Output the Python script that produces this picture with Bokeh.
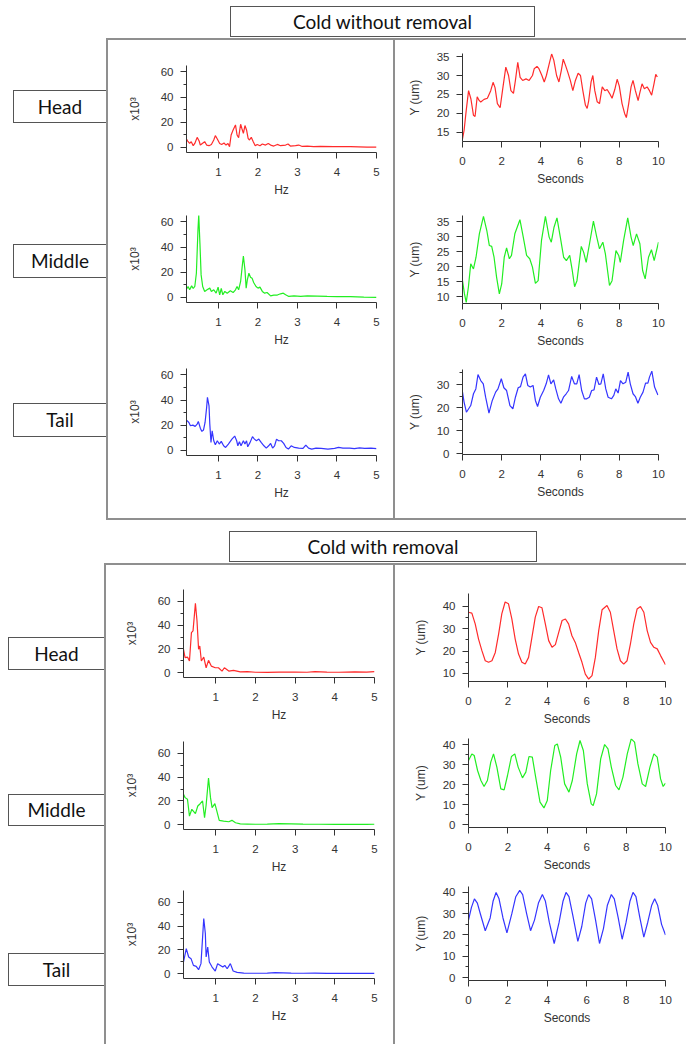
from bokeh.plotting import figure
from bokeh.layouts import row, column
from bokeh.models import Div, Spacer, Range1d, FixedTicker
from bokeh.embed import file_html
from bokeh.resources import INLINE

# ---------------- data ----------------
panel_titles = ["Cold without removal", "Cold with removal"]
row_labels = ["Head", "Middle", "Tail"]

# Panel 1 spectra (Hz, x10^3)
f_h1 = [0.19,0.22,0.27,0.31,0.36,0.40,0.46,0.51,0.54,0.59,0.65,0.70,0.76,0.82,0.88,0.92,0.97,1.03,1.08,1.14,
        1.19,1.24,1.28,1.32,1.37,1.43,1.47,1.51,1.56,1.59,1.63,1.67,1.71,1.75,1.78,1.83,1.88,1.93,1.98,2.05,
        2.11,2.19,2.26,2.32,2.40,2.49,2.57,2.70,2.76,2.82,2.95,3.03,3.12,3.25,3.41,3.58,3.92,4.34,4.76,5.0]
v_h1 = [6.7,5.1,3.2,4.6,1.4,3.2,8.0,5.1,1.9,3.2,4.6,1.9,1.4,2.4,5.9,9.4,6.7,3.2,2.4,3.5,
        1.9,3.2,0.6,9.9,13.9,17.9,9.9,7.8,18.4,15.2,11.2,17.4,13.9,7.2,5.9,8.0,4.6,1.4,2.4,1.4,
        2.7,1.9,3.2,1.9,1.1,2.4,1.4,1.9,2.7,1.1,1.4,1.9,0.8,1.1,0.6,0.8,0.6,0.6,0.3,0.3]
f_m1 = [0.19,0.23,0.27,0.32,0.36,0.40,0.44,0.48,0.50,0.53,0.56,0.60,0.65,0.71,0.78,0.82,0.88,0.94,0.99,1.03,
        1.07,1.11,1.16,1.22,1.30,1.37,1.43,1.47,1.51,1.56,1.60,1.63,1.67,1.70,1.73,1.77,1.81,1.85,1.89,1.95,
        2.00,2.05,2.11,2.17,2.23,2.32,2.40,2.49,2.57,2.64,2.70,2.78,2.91,3.08,3.25,3.50,3.75,4.0,4.34,4.68,5.0]
v_m1 = [6.6,8.7,6.1,9.2,7.1,8.7,19.2,53.4,65.3,42.9,17.9,8.7,4.8,6.1,7.4,4.8,6.1,3.4,8.2,2.1,
        7.1,2.1,4.8,3.4,5.3,3.9,6.1,8.7,6.1,12.7,24.5,32.9,21.9,7.4,14.0,19.2,16.1,15.3,11.9,8.7,
        7.4,8.2,4.8,3.4,3.9,1.3,1.9,1.9,2.9,3.4,2.1,0.8,1.3,0.8,1.3,1.1,0.8,0.6,0.6,0.3,0.1]
f_t1 = [0.19,0.25,0.29,0.35,0.41,0.46,0.49,0.54,0.58,0.62,0.66,0.70,0.72,0.76,0.78,0.81,0.84,0.88,0.92,0.97,
        1.02,1.07,1.13,1.18,1.25,1.34,1.41,1.46,1.49,1.53,1.57,1.63,1.67,1.71,1.74,1.80,1.86,1.91,1.96,2.02,
        2.08,2.15,2.21,2.27,2.32,2.37,2.42,2.47,2.52,2.59,2.65,2.71,2.77,2.84,2.92,3.03,3.14,3.21,3.28,3.36,
        3.47,3.60,3.77,3.94,4.04,4.15,4.32,4.44,4.57,4.70,4.86,5.0]
v_t1 = [24.1,22.2,19.6,20.1,19.1,20.9,23.0,17.7,15.1,16.2,22.2,34.2,42.1,35.4,20.9,6.4,15.6,7.7,4.5,7.7,
        5.1,7.2,3.7,2.4,5.1,9.0,11.4,7.7,3.7,6.9,3.7,7.7,5.1,7.7,2.9,6.4,10.9,9.0,7.7,9.0,
        6.4,3.7,1.9,3.7,5.6,1.9,3.7,9.0,7.7,7.7,5.6,2.4,1.1,3.7,2.4,1.9,1.6,4.3,1.9,1.1,
        1.9,1.6,1.1,1.6,2.4,1.9,1.9,1.4,2.1,1.6,1.9,1.4]

# Panel 1 time series (seconds, um)
t_h1 = [0,0.08,0.19,0.31,0.43,0.56,0.64,0.75,0.84,0.93,1.1,1.27,1.44,1.56,1.66,1.78,1.92,2.04,2.21,2.35,
        2.47,2.6,2.7,2.82,2.94,3.07,3.24,3.4,3.57,3.66,3.8,3.9,4.05,4.17,4.28,4.42,4.55,4.66,4.8,4.92,
        5.04,5.14,5.26,5.37,5.5,5.63,5.76,5.9,6.02,6.14,6.27,6.36,6.44,6.56,6.65,6.75,6.87,6.99,7.13,7.26,
        7.38,7.5,7.63,7.77,7.89,8.0,8.14,8.27,8.36,8.48,8.6,8.7,8.82,8.96,9.04,9.16,9.28,9.42,9.54,9.65,
        9.77,9.86,9.94]
y_h1 = [13.3,15.5,20.8,26,23.8,19.5,19.2,24.4,23.5,23,23.7,24,26,28.2,26.8,22.6,21.5,26,32.2,30,
        26,25.3,28.7,33.5,29.5,28.7,29.1,28.7,30,31.8,32.4,31.8,30,28.3,30,33,35.7,34,30,28.3,
        31.3,34.3,32.6,30.9,28.7,26,28.7,30.6,30,26,22.2,21.3,23.4,28.3,30,26,23.1,22.6,27,26,
        26.3,25.3,24,26.3,29,27.2,22.6,20,18.9,22.6,27,28.7,26,23.4,25.3,27.8,26.5,27,26,24.8,
        27.8,30.3,29.6]
t_m1 = [0,0.1,0.19,0.3,0.42,0.56,0.69,0.86,1.07,1.24,1.37,1.49,1.61,1.74,1.88,2.0,2.13,2.25,2.39,2.5,
        2.67,2.93,3.1,3.27,3.43,3.57,3.72,3.86,4.03,4.23,4.42,4.53,4.67,4.82,4.99,5.16,5.3,5.47,5.6,5.72,
        5.84,6.06,6.18,6.31,6.48,6.68,6.85,6.99,7.16,7.29,7.5,7.63,7.83,7.97,8.05,8.22,8.43,8.6,8.71,8.88,
        9.05,9.19,9.32,9.49,9.64,9.78,10.0]
y_m1 = [15.3,10.9,8.1,13.1,20.9,19.2,23.1,30.9,36.7,32,27,26.7,23.1,16.4,10.9,14.2,23.1,26.2,22.6,23.7,
        30.9,35.6,29.8,23.7,22.6,19.8,14.4,15.3,28.7,36.7,29.8,28.1,33.1,36.2,29.8,23.1,22,23.7,18.7,13.3,
        15.3,26.7,24.8,21.4,27.6,35.1,29.8,25.9,28.1,24.2,13.7,15.3,25.3,23.7,21.4,28.7,36.2,29.8,27,30.9,
        27.6,18.7,15.9,23.1,25.6,22,28.1]
t_t1 = [0,0.08,0.2,0.42,0.56,0.68,0.79,0.93,1.06,1.18,1.35,1.52,1.69,1.81,1.98,2.11,2.25,2.42,2.57,2.7,
        2.84,2.96,3.09,3.21,3.33,3.46,3.6,3.72,3.83,3.97,4.14,4.27,4.39,4.51,4.65,4.76,4.9,5.02,5.15,5.29,
        5.41,5.57,5.71,5.83,5.95,6.08,6.22,6.34,6.47,6.59,6.71,6.84,6.96,7.06,7.18,7.31,7.43,7.6,7.72,7.82,
        7.94,8.06,8.19,8.33,8.45,8.56,8.7,8.82,8.95,9.07,9.21,9.34,9.46,9.54,9.66,9.8,9.97]
y_t1 = [26.7,22.4,18,20.9,26,28.1,34.3,31.7,30.3,24.5,17.6,23.1,26.7,28.1,32.5,28.6,27.4,20.9,19.5,24.5,
        28.6,29.1,33.2,34.6,29.6,28.9,29.6,23.1,20.5,24.5,27.4,30.3,34.2,30.3,32,28.1,23.8,21.9,24.5,26,
        27.4,33.5,30.3,30.3,34.3,27.4,23.8,23.8,24.5,27.4,27.7,33.2,30,30.3,34.6,28.1,24.5,23.8,25.3,28.1,
        26.3,31.7,30.3,31,35.4,30.3,26,24.8,21.9,24.5,26.7,30.6,30.6,33.2,35.8,28.9,25.5]

# Panel 2 spectra
f_h2 = [0.19,0.23,0.29,0.34,0.39,0.43,0.49,0.53,0.57,0.60,0.64,0.70,0.76,0.82,0.89,0.99,1.07,1.16,1.22,1.33,
        1.45,1.62,1.80,2.0,2.3,2.6,3.0,3.3,3.5,3.8,4.1,4.5,4.8,5.0]
v_h2 = [19.7,12.7,13.2,9.9,33.8,35.2,58.3,43.7,19.7,22.5,9.9,13.2,4.2,10.4,5.6,4.2,4.2,1.4,4.2,1.4,
        2.0,0.8,1.0,0.4,0.3,0.5,0.6,0.4,0.9,0.5,0.4,0.8,0.6,0.9]
f_m2 = [0.19,0.23,0.29,0.34,0.40,0.49,0.55,0.61,0.67,0.72,0.76,0.82,0.87,0.91,0.98,1.03,1.09,1.20,1.33,1.41,
        1.50,1.62,1.8,2.0,2.3,2.6,2.9,3.2,3.6,4.0,4.4,4.8,5.0]
v_m2 = [25.6,22.8,21.4,7.3,13,9.3,15.8,17.7,20,5.9,16.6,39.2,22.8,14.4,17.7,11.5,3.7,3.1,2.5,3.7,
        1.7,0.8,0.6,0.4,0.5,0.9,0.8,0.5,0.4,0.3,0.4,0.3,0.4]
f_t2 = [0.19,0.26,0.32,0.38,0.44,0.51,0.57,0.63,0.70,0.74,0.76,0.80,0.84,0.91,0.99,1.05,1.12,1.18,1.23,1.29,
        1.37,1.44,1.54,1.71,2.0,2.3,2.5,2.7,2.9,3.2,3.5,3.8,4.2,4.6,5.0]
v_t2 = [9.9,21.1,14.1,12.7,7,6.2,3.4,8.5,46.5,33.8,14.1,22.5,9.9,5.6,2.3,8.5,7,5.6,7,4.2,
        8.5,2.3,1.1,0.6,0.4,0.5,1.0,0.8,0.5,0.4,0.5,0.3,0.4,0.3,0.3]

# Panel 2 time series
t_h2 = [0,0.17,0.34,0.51,0.68,0.85,1.02,1.19,1.36,1.53,1.69,1.86,2.03,2.2,2.37,2.54,2.71,2.88,3.05,3.22,
        3.39,3.56,3.73,3.9,4.07,4.24,4.41,4.58,4.75,4.92,5.08,5.25,5.42,5.59,5.76,5.93,6.1,6.27,6.44,6.61,
        6.78,7.03,7.2,7.37,7.54,7.71,7.88,8.05,8.22,8.39,8.56,8.73,8.9,9.07,9.24,9.41,9.58,9.75,10]
y_h2 = [37.4,37,32.2,25.4,20.2,15.7,15,15.7,19.4,27.7,36.7,42,41.2,34.4,25.4,18.7,15,14.2,17.2,26.2,
        35.2,40,39.4,32.2,24.7,21.7,22.9,28.4,33.7,34.4,32.2,26.9,23.9,19.4,15,9.7,7.5,9,17.2,29.2,
        38.5,40.4,37.4,29.2,21,15.7,14.2,15.7,23.2,32.2,38.9,40,37.4,29.2,23.9,21.7,21,18,13.9]
t_m2 = [0,0.17,0.29,0.46,0.63,0.79,0.96,1.13,1.27,1.44,1.64,1.81,1.98,2.18,2.35,2.52,2.74,2.91,3.07,3.24,
        3.41,3.63,3.83,4.0,4.17,4.38,4.51,4.68,4.88,5.1,5.27,5.49,5.66,5.83,6.03,6.23,6.33,6.5,6.71,6.91,
        7.08,7.25,7.47,7.64,7.84,8.06,8.26,8.43,8.6,8.82,8.99,9.21,9.41,9.58,9.75,9.88,10]
y_m2 = [32,35.3,34.5,27,22,19,22,31.2,35.3,28.7,17.8,17.3,24.5,34,35.3,28.7,23.3,26.2,34,33.7,
        23.7,11.2,8.3,12,27,39.5,40.3,33.7,20.3,16.2,22,35.3,42,37,20.3,10.3,9.5,15.3,32.8,40,
        37.8,28.7,19.5,17.3,23.7,35.3,42.8,41.2,30.3,20.3,19,28.7,35.3,33.7,22.8,19,20.7]
t_t2 = [0,0.15,0.3,0.45,0.6,0.85,1.1,1.25,1.4,1.55,1.75,1.95,2.2,2.4,2.6,2.75,2.95,3.15,3.35,3.55,
        3.75,3.9,4.1,4.35,4.6,4.8,4.95,5.1,5.3,5.55,5.75,5.95,6.1,6.25,6.45,6.65,6.85,7.05,7.25,7.4,
        7.6,7.8,8.0,8.2,8.35,8.5,8.7,8.9,9.1,9.3,9.45,9.6,9.8,10]
y_t2 = [27,33,37,35,30,22,28,36,40,37,28,21,30,38,41,39,30,22,27,35,
        39,36,26,16,26,36,40,38,29,17,24,35,39,37,27,16,23,34,39,37,
        28,18,26,36,40,38,28,19,26,34,37,34,25,20]

RED = "#ff2b2b"
GREEN = "#22ee22"
BLUE = "#3535ff"
AX = "#333333"
TFONT = "Liberation Sans"
BORDER = "#555555"
PLINE = "#8f8f8f"


def make_plot(w, h, bl, br, bt, bb, xr, yr, xs, ys, color, xticks, yticks, yminor,
              xlabel, ylabel, ylab_standoff):
    p = figure(width=w, height=h, x_range=Range1d(*xr), y_range=Range1d(*yr),
               toolbar_location=None, output_backend="svg",
               min_border_left=bl, min_border_right=br,
               min_border_top=bt, min_border_bottom=bb)
    p.outline_line_color = None
    p.xgrid.visible = False
    p.ygrid.visible = False
    p.background_fill_color = "white"
    p.border_fill_color = "white"
    p.line(xs, ys, line_color=color, line_width=1.2)
    p.xaxis.ticker = FixedTicker(ticks=xticks, minor_ticks=[])
    p.yaxis.ticker = FixedTicker(ticks=yticks, minor_ticks=yminor)
    for ax in (p.xaxis[0], p.yaxis[0]):
        ax.axis_line_color = AX
        ax.major_tick_line_color = AX
        ax.minor_tick_line_color = AX
        ax.major_tick_in = 0
        ax.major_tick_out = 6
        ax.minor_tick_in = 0
        ax.minor_tick_out = 3
        ax.major_label_text_font = TFONT
        ax.major_label_text_font_size = "11.5px"
        ax.major_label_text_color = AX
        ax.axis_label_text_font = TFONT
        ax.axis_label_text_font_size = "12px"
        ax.axis_label_text_font_style = "normal"
        ax.axis_label_text_color = AX
    p.xaxis.axis_label = xlabel
    p.yaxis.axis_label = ylabel
    p.xaxis.major_label_standoff = 9
    p.xaxis.axis_label_standoff = 4
    p.yaxis.major_label_standoff = 7
    p.yaxis.axis_label_standoff = ylab_standoff
    return p


def box(text, w, h, bw, bh, ml, mt, size, right=True):
    br = "" if right else "border-right:none;"
    html = ('<div style="box-sizing:border-box;margin-left:%dpx;margin-top:%dpx;width:%dpx;height:%dpx;'
            'border:1px solid %s;%sdisplay:flex;align-items:center;justify-content:center;'
            'font-family:Lato;font-size:%dpx;color:#111;background:#fff;">%s</div>'
            % (ml, mt, bw, bh, BORDER, br, size, text))
    return Div(text=html, width=w, height=h, margin=0)


def line_div(w, h):
    return Div(text="", width=w, height=h, margin=0,
               styles={"background-color": PLINE})


def sp(w, h):
    return Spacer(width=w, height=h, margin=0)


SX = [1, 2, 3, 4, 5]
SY = [0, 20, 40, 60]
SYM = [10, 30, 50]
TX = [0, 2, 4, 6, 8, 10]

# ---------- panel 1 ----------
s1 = make_plot(285, 160, 78, 17, 25, 48, (0.19, 5.0), (-4, 65), f_h1, v_h1, RED, SX, SY, SYM, "Hz", "x10³", 16)
s2 = make_plot(285, 153, 78, 17, 15, 51, (0.19, 5.0), (-4, 65), f_m1, v_m1, GREEN, SX, SY, SYM, "Hz", "x10³", 16)
s3 = make_plot(285, 165, 78, 17, 15, 63, (0.19, 5.0), (-4, 65), f_t1, v_t1, BLUE, SX, SY, SYM, "Hz", "x10³", 16)
r1 = make_plot(291, 160, 67, 28, 13, 59, (0, 10), (12.6, 35.8), t_h1, y_h1, RED, TX,
               [15, 20, 25, 30, 35], [], "Seconds", "Y (um)", 12)
r2 = make_plot(291, 153, 67, 28, 15, 50, (0, 10), (7.7, 37), t_m1, y_m1, GREEN, TX,
               [10, 15, 20, 25, 30, 35], [], "Seconds", "Y (um)", 12)
r3 = make_plot(291, 165, 67, 28, 16, 64, (0, 10), (-0.3, 36.5), t_t1, y_t1, BLUE, TX,
               [0, 10, 20, 30], [5, 15, 25, 35], "Seconds", "Y (um)", 12)

labels1 = column(sp(106, 52), box(row_labels[0], 106, 33, 93, 33, 13, 0, 19, False),
                 sp(106, 121), box(row_labels[1], 106, 34, 93, 34, 13, 0, 19, False),
                 sp(106, 125), box(row_labels[2], 106, 34, 93, 34, 13, 0, 19, False),
                 sp(106, 83))
inner1 = row(line_div(2, 478), column(s1, s2, s3), line_div(2, 478), column(r1, r2, r3))
body1 = column(line_div(580, 2), inner1, line_div(580, 2))
panel1 = row(labels1, body1)
title1 = row(sp(230, 38), box(panel_titles[0], 305, 38, 305, 31, 0, 6, 19))

# ---------- panel 2 ----------
S2X = (0.19, 5.0)
q1 = make_plot(287, 159, 77, 19, 24, 47, S2X, (-4, 70), f_h2, v_h2, RED, SX, SY, SYM, "Hz", "x10³", 16)
q2 = make_plot(287, 152, 77, 19, 17, 47, S2X, (-4, 70), f_m2, v_m2, GREEN, SX, SY, SYM, "Hz", "x10³", 16)
q3 = make_plot(287, 168, 77, 19, 14, 66, S2X, (-4, 70), f_t2, v_t2, BLUE, SX, SY, SYM, "Hz", "x10³", 16)
u1 = make_plot(291, 163, 73, 21, 28, 47, (0, 10), (6.4, 45.8), t_h2, y_h2, RED, TX,
               [10, 20, 30, 40], [15, 25, 35], "Seconds", "Y (um)", 12)
u2 = make_plot(291, 148, 73, 21, 10, 49, (0, 10), (-1.5, 43), t_m2, y_m2, GREEN, TX,
               [0, 10, 20, 30, 40], [5, 15, 25, 35], "Seconds", "Y (um)", 12)
u3 = make_plot(291, 168, 73, 21, 10, 64, (0, 10), (-1.4, 42.8), t_t2, y_t2, BLUE, TX,
               [0, 10, 20, 30, 40], [5, 15, 25, 35], "Seconds", "Y (um)", 12)

labels2 = column(sp(104, 74), box(row_labels[0], 104, 33, 96, 33, 8, 0, 19, False),
                 sp(104, 124), box(row_labels[1], 104, 32, 96, 32, 8, 0, 19, False),
                 sp(104, 127), box(row_labels[2], 104, 33, 96, 33, 8, 0, 19, False),
                 sp(104, 58))
inner2 = row(line_div(2, 479), column(q1, q2, q3), line_div(2, 479), column(u1, u2, u3))
body2 = column(line_div(582, 2), inner2)
panel2 = row(labels2, body2)
title2 = row(sp(229, 32), box(panel_titles[1], 308, 32, 308, 31, 0, 0, 19))

root = column(title1, panel1, sp(686, 11), title2, panel2)

open("out.html", "w").write(file_html(root, INLINE))
